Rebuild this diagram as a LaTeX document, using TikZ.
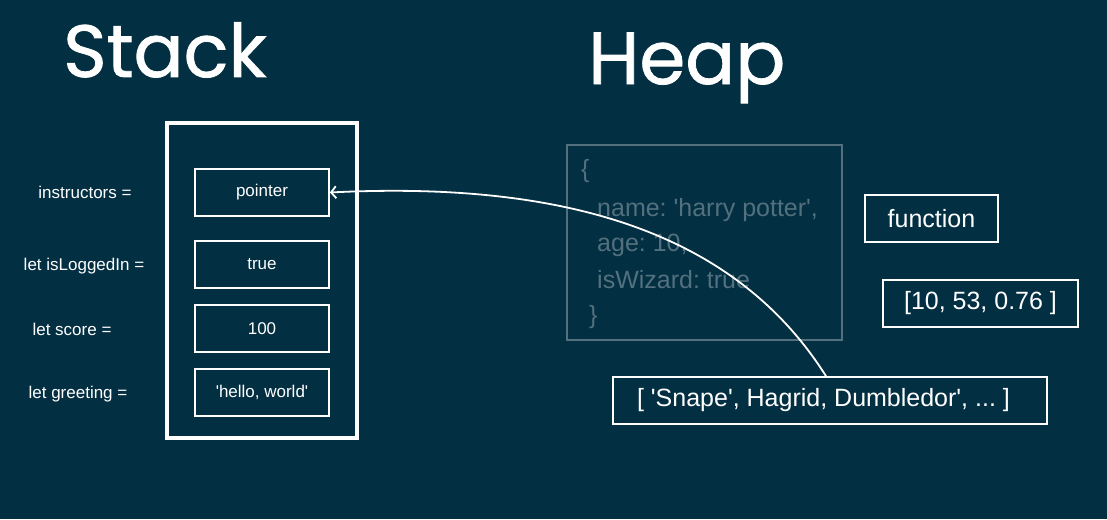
\documentclass[tikz,border=0pt]{standalone}
\usepackage{fontspec}
\setmainfont{Liberation Sans}[Ligatures=TeXOff]
\newfontfamily\titlefont{Poppins}[FakeBold=1]
\usetikzlibrary{arrows.meta}
\frenchspacing

\definecolor{bgnavy}{RGB}{3,47,66}
\definecolor{heapgray}{RGB}{82,112,125}

\begin{document}
\begin{tikzpicture}[
    x=1pt, y=-1pt,
    every node/.style={font=\fontsize{17}{20}\selectfont, text=white},
    title/.style={font=\titlefont\fontsize{74}{80}\selectfont, anchor=base west, inner sep=0},
    varbox/.style={draw=white, line width=1.8pt, minimum width=134, minimum height=47, inner sep=0},
    heapbox/.style={draw=white, line width=1.8pt, minimum height=47, inner sep=0,
        font=\fontsize{25}{30}\selectfont},
    objline/.style={anchor=west, inner sep=0, text=heapgray, font=\fontsize{25}{30}\selectfont},
    >={Straight Barb[length=5pt, width=12pt]}
]

% --- Background ---
\fill[bgnavy] (0,0) rectangle (1107,519);
\useasboundingbox (0,0) rectangle (1107,519);

% --- Titles ---
\node[title] (stacktitle) at (63,77) {Stack};
\node[title] (heaptitle) at (588,84) {Heap};

% --- Stack frame ---
\node[draw=white, line width=3.5pt, minimum width=190, minimum height=315] (stack) at (262,280.5) {};

% --- Stack slots ---
\node[varbox] (pointer) at (262,192.5) {pointer};
\node[varbox] (loggedin) at (262,264.5) {true};
\node[varbox] (score) at (262,328.5) {100};
\node[varbox] (greeting) at (262,392.5) {'hello, world'};

% --- Variable names ---
\node (instructorsname) at (85,192) {instructors =};
\node (loggedinname) at (84,266) {let isLoggedIn =};
\node (scorename) at (72,329) {let score =};
\node (greetingname) at (78,394) {let greeting =};

% --- Heap object ---
\node[draw=heapgray, line width=1.8pt, minimum width=275, minimum height=195] (object) at (704.5,242.5) {};
\node[objline] (objopen) at (581,171) {\{};
\node[objline] (objname) at (597,210) {name: 'harry potter',};
\node[objline] (objage) at (597,245) {age: 10,};
\node[objline] (objwizard) at (597,280) {isWizard: true};
\node[objline] (objclose) at (589,317) {\}};

% --- Other heap values ---
\node[heapbox, minimum width=133] (function) at (931.5,218.5) {function};
\node[heapbox, minimum width=195] (numbers) at (980.5,303.5) {[10, 53, 0.76 ]};
\node[heapbox, minimum width=434] (instructors) at (830,400.5) {\hspace{-13pt}[ 'Snape', Hagrid, Dumbledor', ... ]};

% --- Reference arrow ---
\draw[->, white, line width=1.8pt] ([xshift=-4pt]instructors.north)
    .. controls (740,240) and (580,180) .. (pointer.east);

\end{tikzpicture}
\end{document}
